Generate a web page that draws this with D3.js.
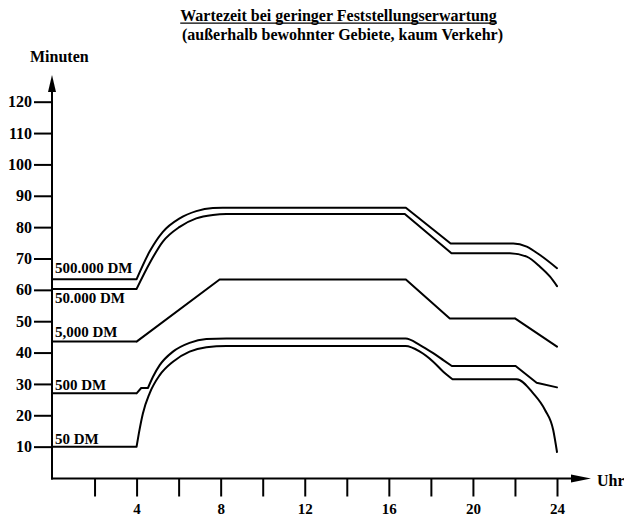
<!DOCTYPE html>
<html><head><meta charset="utf-8">
<script src="https://cdn.jsdelivr.net/npm/d3@7"></script>
<style>
body{margin:0;background:#fff}
svg{display:block}
text{font-family:"Liberation Serif","Times New Roman",serif;font-weight:bold;fill:#000}
</style>
</head><body><svg id="c" width="624" height="516"></svg>
<script>
// ---- text ----
const title = "Wartezeit bei geringer Feststellungserwartung";
const subtitle = "(außerhalb bewohnter Gebiete, kaum Verkehr)";
const yAxisTitle = "Minuten";
const xAxisTitle = "Uhr";

// ---- ticks ----
const yTickValues = [10, 20, 30, 40, 50, 60, 70, 80, 90, 100, 110, 120];
const xTickValues = [2, 4, 6, 8, 10, 12, 14, 16, 18, 20, 22, 24];
const xTickLabels = [4, 8, 12, 16, 20, 24];

// ---- series (hour, minutes), split into pieces at sharp corners ----
const seriesNames = ["500.000 DM", "50.000 DM", "5,000 DM", "500 DM", "50 DM"];

const dm500000 = [
  [[0, 63.4], [4, 63.4]],
  [[4, 63.4], [4.62, 72.2], [5.25, 78.5], [6.05, 82.8], [6.84, 85.1], [7.63, 86.1], [8.1, 86.2], [16.81, 86.2]],
  [[16.81, 86.2], [18.94, 74.8]],
  [[18.94, 74.8], [21.92, 74.8], [22.56, 73.8], [23.19, 71.1], [24, 66.9]]
];
const dm50000 = [
  [[0, 60.3], [4, 60.3]],
  [[4, 60.3], [4.62, 68.5], [5.25, 75.4], [6.05, 80.1], [6.84, 82.8], [7.63, 83.9], [8.27, 84.2], [16.76, 84.2]],
  [[16.76, 84.2], [18.98, 71.7]],
  [[18.98, 71.7], [21.76, 71.7], [22.56, 70.6], [23.19, 67.4], [23.67, 64.2], [24, 61.2]]
];
const dm5000 = [
  [[0, 43.5], [4, 43.5]],
  [[4, 43.5], [7.95, 63.3]],
  [[7.95, 63.3], [16.81, 63.3]],
  [[16.81, 63.3], [18.9, 50.9]],
  [[18.9, 50.9], [22, 50.9]],
  [[22, 50.9], [24, 41.9]]
];
const dm500 = [
  [[0, 27], [4, 27]],
  [[4, 27], [4.22, 28.7]],
  [[4.22, 28.7], [4.54, 28.7]],
  [[4.54, 28.7], [4.78, 32.3], [5.1, 36], [5.73, 40.3], [6.52, 43.1], [7.32, 44.3], [8.27, 44.5], [16.8, 44.5], [17.48, 42.4], [18.11, 39.8], [18.59, 37.6], [19, 35.7]],
  [[19, 35.7], [22.03, 35.7]],
  [[22.03, 35.7], [23.03, 30.4]],
  [[23.03, 30.4], [24, 28.9]]
];
const dm50 = [
  [[0, 10], [4, 10]],
  [[4, 10], [4.11, 14.3], [4.3, 20.6], [4.62, 27], [5.1, 32.8], [5.73, 37.1], [6.52, 40.3], [7.32, 41.7], [8.27, 42.1], [16.8, 42.1], [17.48, 40.3], [18.11, 37.1], [18.59, 33.9], [19.03, 31.5]],
  [[19.03, 31.5], [22.08, 31.5], [22.87, 27], [23.43, 21.7], [23.82, 15.3], [24, 8.3]]
];
const allSeries = [dm500000, dm50000, dm5000, dm500, dm50];

// ---- drawing ----
const svg = d3.select("#c");
const x = d3.scaleLinear().domain([0, 24]).range([52.5, 557]);
const y = d3.scaleLinear().domain([0, 120]).range([478, 101.7]);
const ox = 52, oy = 478.5;

// title
const t = svg.append("text").attr("x", 338.5).attr("y", 20.5).attr("text-anchor", "middle")
  .style("font-size", "16px").text(title);
const bb = t.node().getBBox();
svg.append("line").attr("x1", bb.x).attr("x2", bb.x + bb.width).attr("y1", 23.2).attr("y2", 23.2)
  .attr("stroke", "#000").attr("stroke-width", 1.3);
svg.append("text").attr("x", 342.5).attr("y", 39.5).attr("text-anchor", "middle")
  .style("font-size", "16px").text(subtitle);

// y axis
const ya = svg.append("g").attr("transform", `translate(${ox},0)`)
  .call(d3.axisLeft(y).tickValues(yTickValues).tickSize(18).tickPadding(2).tickSizeOuter(0));
ya.select(".domain").remove();
ya.selectAll(".tick line").attr("stroke", "#000").attr("stroke-width", 2);
ya.selectAll(".tick text").style("font-size", "16px").style("font-family", '"Liberation Serif",serif')
  .style("font-weight", "bold");

// x axis
const xa = svg.append("g").attr("transform", `translate(0,${oy})`)
  .call(d3.axisBottom(x).tickValues(xTickValues).tickSize(18).tickPadding(7).tickSizeOuter(0)
    .tickFormat(d => xTickLabels.includes(d) ? String(d) : ""));
xa.select(".domain").remove();
xa.selectAll(".tick line").attr("stroke", "#000").attr("stroke-width", 2);
xa.selectAll(".tick text").style("font-size", "15px").style("font-family", '"Liberation Serif",serif')
  .style("font-weight", "bold");

// axis lines with arrows
svg.append("line").attr("x1", ox).attr("y1", oy + 1).attr("x2", ox).attr("y2", 88)
  .attr("stroke", "#000").attr("stroke-width", 2);
svg.append("path").attr("d", `M${ox},75 L${ox - 4},92 L${ox + 4},92 Z`).attr("fill", "#000");
svg.append("line").attr("x1", ox - 1).attr("y1", oy).attr("x2", 575).attr("y2", oy)
  .attr("stroke", "#000").attr("stroke-width", 2);
svg.append("path").attr("d", `M591,${oy} L571,${oy - 4} L571,${oy + 4} Z`).attr("fill", "#000");

svg.append("text").attr("x", 30).attr("y", 62).style("font-size", "16px").text(yAxisTitle);
svg.append("text").attr("x", 597).attr("y", 486).style("font-size", "16px").text(xAxisTitle);

// series lines
const line = d3.line().x(d => x(d[0])).y(d => y(d[1])).curve(d3.curveMonotoneX);
allSeries.forEach(pieces => {
  svg.append("path")
    .attr("d", pieces.map(p => line(p)).join(""))
    .attr("fill", "none").attr("stroke", "#000").attr("stroke-width", 2)
    .attr("stroke-linecap", "round").attr("stroke-linejoin", "round");
});

// series labels at the start of each line
const labelDy = [-6, 14.5, -4.5, -3.5, -3];
allSeries.forEach((pieces, i) => {
  svg.append("text").attr("x", 55).attr("y", y(pieces[0][0][1]) + labelDy[i])
    .style("font-size", "15px").text(seriesNames[i]);
});
</script></body></html>
